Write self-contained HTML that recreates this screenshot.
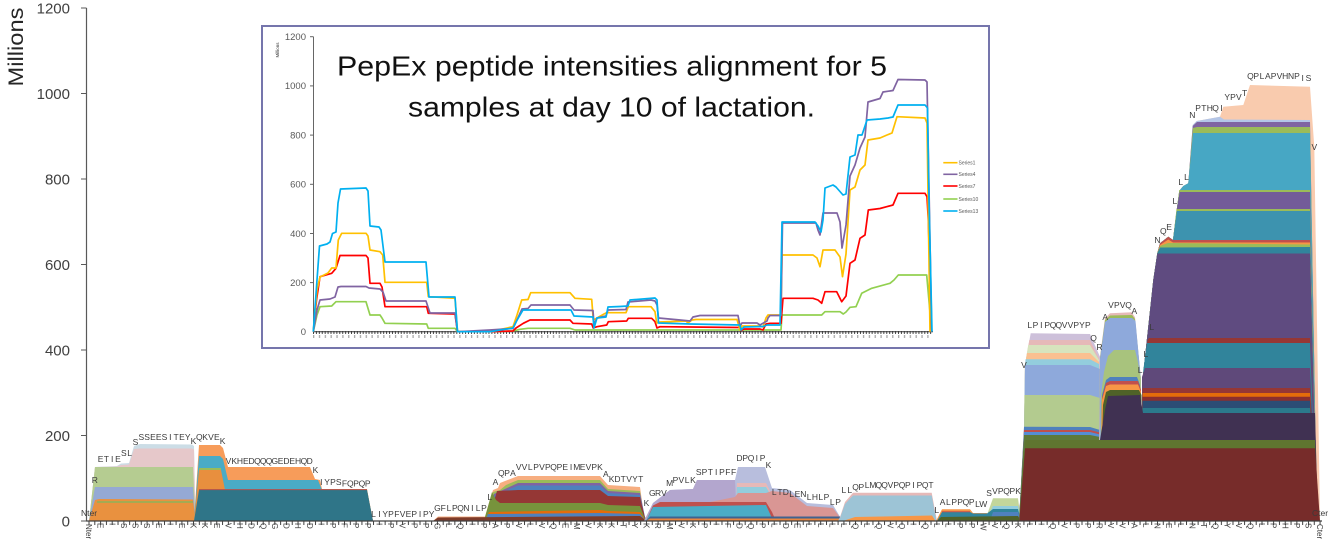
<!DOCTYPE html>
<html><head><meta charset="utf-8"><style>
html,body{margin:0;padding:0;background:#fff;}
svg{display:block;font-family:"Liberation Sans",sans-serif;}
</style></head><body>
<svg width="1330" height="552" viewBox="0 0 1330 552" xmlns="http://www.w3.org/2000/svg">
<defs>
<pattern id="tk" x="88.5" y="521" width="5.807" height="6" patternUnits="userSpaceOnUse"><rect x="0" y="0" width="1" height="6" fill="#404040"/></pattern>
<pattern id="tk2" x="313" y="331" width="2.925" height="4" patternUnits="userSpaceOnUse"><rect x="0" y="0" width="0.9" height="4" fill="#333"/></pattern>
<pattern id="tk3" x="313" y="334" width="5.85" height="6" patternUnits="userSpaceOnUse"><rect x="0" y="0" width="1.3" height="4" fill="#aaa"/></pattern>
</defs>
<rect width="1330" height="552" fill="#fff"/>

<!-- Block 1 -->
<polygon fill="#CCDDE6" points="89,521 95,467 117,466 121,463.5 129,463 134,446 140,444 192,444.5 194,446 195.5,521"/>
<polygon fill="#E6C8CA" points="89,521 95,467 117,466.5 121,465 129,464.5 134,449 140,448.5 192,448.5 194,449.5 195.5,521"/>
<polygon fill="#B5CC91" points="89,521 95,467 193,467 195.5,521"/>
<polygon fill="#95A9D4" points="89,521 95,487 193,487 195.5,521"/>
<polygon fill="#E9913F" points="89,521 95,500 99,499 193,499.5 195.5,521"/>
<line x1="97" y1="502" x2="193" y2="502" stroke="#8DB35A" stroke-width="1.5"/>

<!-- Block 2 -->
<polygon fill="#F79C5A" points="194,521 199,445 220,445 223,448 228,467 310,467 315,479 320,480 322,489 367,489 373,521"/>
<polygon fill="#4AABC6" points="194,521 199,456 220,456 223,459 228,480 318,480 322,490 367,490 373,521"/>
<polygon fill="#E88F3E" points="194,521 199,470 221,470 225,490 367,490 373,521"/>
<line x1="199" y1="469" x2="221" y2="469" stroke="#9BBB59" stroke-width="2"/>
<polygon fill="#2F7588" points="194,521 199,490 367,490 373,521"/>
<line x1="199" y1="489.6" x2="367" y2="489.6" stroke="#B0504D" stroke-width="1"/>

<!-- Block 3 -->
<polygon fill="#F7AE80" points="433,521 438,516.5 485,516.5 493,490 498,488 500,483 505,481 518,476 600,476 608,485 640,487 644,515 647,521"/>
<polygon fill="#9BBB59" points="485,521 493,492 500,490 506,485 518,480 600,480 608,489 640,491 644,516 647,521"/>
<polygon fill="#8064A2" points="485,521 494,494 518,483 600,483 608,491 640,493 645,517 647,521"/>
<polygon fill="#4F81BD" points="485,521 495,495 518,485.5 600,485.5 608,493 640,495 645,518 647,521"/>
<polygon fill="#953735" points="485,521 490,515 497,491 518,490 600,490 608,496 640,497 645,518 647,521"/>
<polygon fill="#77933C" points="485,521 485,517 492,492 496,500 500,503 600,503 608,505 640,506 645,519 647,521"/>
<polygon fill="#E46C0A" points="485,521 489,512 600,510 608,511 640,512 645,519.5 647,521"/>
<polygon fill="#4F81BD" points="485,521 488,514 600,513 640,514 645,520 647,521"/>
<polygon fill="#7D3B2A" points="433,521 438,517.5 640,516 646,520.5 647,521"/>

<!-- Block 4 -->
<polygon fill="#B8BEDD" points="644,521 653,503 670,490 693,489 697,480 735,480 738,467 765,467 772,488 790,490 807,503 833,505 840,516.7 842,521"/>
<polygon fill="#B3A6CE" points="644,521 653,503 670,490 693,489 697,480 735,480 737,521"/>
<polygon fill="#E6B9B8" points="735,521 737,483 766,483 772,495 775,521"/>
<polygon fill="#93CDDD" points="735,521 737,487 766,487 772,497 775,521"/>
<polygon fill="#D99694" points="650,521 700,504 735,497 738,493 766,493 772,491 790,493 807,506 833,508 840,517.5 842,521"/>
<polygon fill="#C0504D" points="646,521 653,505.5 660,502 766,502 772,512 776,521"/>
<polygon fill="#4BACC6" points="646,521 653,507 766,505 771,516 774,521"/>
<polygon fill="#3F6390" points="646,521 650,516.5 840,516.5 842,521"/>
<polygon fill="#E9863F" points="646,521 650,518.5 840,518.5 842,521"/>

<!-- Block 5 -->
<polygon fill="#E6B9B8" points="838,521 840,517 845,502 853,492.7 931.7,492.7 937,521"/>
<polygon fill="#9DC4D6" points="838,521 840,518 845,504 853,495.5 931.7,495.5 936.5,521"/>
<polygon fill="#F79646" points="843,521 855,517 932,515.5 935.5,521"/>

<!-- Block 6 -->
<polygon fill="#C3D69B" points="985,521 988,512 993,498.3 1018,498.3 1021,521"/>
<polygon fill="#93CDDD" points="986,521 993,506 1018,506 1021,521"/>
<polygon fill="#F79646" points="936,521 942,509.3 970,509.3 973,513 987,513 990,521"/>
<polygon fill="#31859C" points="937,521 942,512 970,512 973,513.5 987,513.5 993,509 1018,509 1021,521"/>
<line x1="942" y1="511.7" x2="970" y2="511.7" stroke="#C0504D" stroke-width="1"/>
<polygon fill="#4F81BD" points="990,521 993,512 1018,512 1021,521"/>
<polygon fill="#4F6228" points="937,521 941,517 1018,516 1021,521"/>

<!-- Block 7: right part upper layers -->
<polygon fill="#F9CBAE" points="1142,521 1143.3,373.3 1153.3,280 1157.3,253.3 1160,243.3 1168.3,236.7 1173,240 1176.7,210 1179.3,190.7 1183.3,186 1188.3,183.3 1192.7,125 1196.7,121 1220,116.7 1223.3,106.7 1243.3,105 1250,85 1310,86.7 1314.3,147 1320,521"/>
<polygon fill="#B4C6E7" points="1142,521 1143.3,373.3 1153.3,280 1157.3,253.3 1160,243.3 1168.3,236.7 1173,240 1176.7,210 1179.3,190.7 1183.3,186 1188.3,183.3 1192.7,125 1196.7,121 1220,116.7 1224,119.5 1310,120 1317,521"/>
<polygon fill="#8064A2" points="1142,521 1143.3,373.3 1153.3,280 1157.3,253.3 1160,243.3 1168.3,236.7 1173,240 1176.7,210 1179.3,190.7 1183.3,186 1188.3,183.3 1192.7,126 1197,122 1310,122 1317,521"/>
<polygon fill="#9BBB59" points="1142,521 1143.3,373.3 1153.3,280 1157.3,253.3 1160,243.3 1168.3,236.7 1173,240 1176.7,210 1179.3,190.7 1183.3,186 1188.3,183.3 1192.9,128 1197,127 1310,127 1317,521"/>
<polygon fill="#47A7C4" points="1142,521 1143.3,373.3 1153.3,280 1157.3,253.3 1160,243.3 1168.3,236.7 1173,240 1176.7,210 1179.3,190.7 1183.3,186 1188.3,183.3 1193,133 1310,133 1317,521"/>
<polygon fill="#9BBB59" points="1142,521 1143.3,373.3 1153.3,280 1157.3,253.3 1160,243.3 1168.3,236.7 1173,240 1176.7,210 1179.3,190 1310,190 1317,521"/>
<polygon fill="#735B99" points="1142,521 1143.3,373.3 1153.3,280 1157.3,253.3 1160,243.3 1168.3,236.7 1173,240 1176.7,210 1179.6,192 1310,192 1317,521"/>
<polygon fill="#9BBB59" points="1142,521 1143.3,373.3 1153.3,280 1157.3,253.3 1160,243.3 1168.3,236.7 1173,240 1176.5,209 1310,209 1317,521"/>
<polygon fill="#3D93AF" points="1142,521 1143.3,373.3 1153.3,280 1157.3,253.3 1160,243.3 1168.3,236.7 1173,240 1176.8,211 1310,211 1317,521"/>
<polygon fill="#C0504D" points="1142,521 1143.3,373.3 1153.3,280 1157.3,253.3 1160,243.3 1168.3,236.7 1173,240 1310,240 1317,521"/>
<polygon fill="#F79646" points="1142,521 1143.3,373.3 1153.3,280 1157.3,253.3 1160,245 1168.3,239.5 1173,242.5 1310,242.5 1317,521"/>
<polygon fill="#9BBB59" points="1142,521 1143.3,373.3 1153.3,280 1157.3,253.3 1160,246 1168,243 1310,244.5 1317,521"/>
<polygon fill="#31859C" points="1142,521 1143.3,373.3 1153.3,280 1157.3,253.3 1160,247.5 1310,247 1317,521"/>
<polygon fill="#5F4B80" points="1142,521 1143.3,373.3 1153.3,280 1157.3,253.5 1310,253.5 1317,521"/>
<polygon fill="#953735" points="1142,521 1143.3,373.3 1147.5,340 1149,338 1310,338 1317,521"/>
<polygon fill="#31849B" points="1142,521 1143.3,370 1147,343 1310,343 1317,521"/>
<polygon fill="#5F497A" points="1142,521 1142,377 1145,368 1310,368 1317,521"/>
<!-- right stripes -->
<polygon fill="#953735" points="1141,521 1142.5,388 1310,388 1317,521"/>
<polygon fill="#E46C0A" points="1141,521 1142.5,393 1310,393 1317,521"/>
<polygon fill="#8B2F2E" points="1141,521 1142.5,396.7 1310,396.7 1317,521"/>
<polygon fill="#2C4D75" points="1141,521 1142.5,400.7 1310,400.7 1317,521"/>
<polygon fill="#2B7A8C" points="1141,521 1142.5,408 1310,408 1317,521"/>

<!-- Block 7: left part -->
<polygon fill="#CDC0DA" points="1019,521 1024,440 1025,365 1030.7,333.3 1090,334 1100,356.7 1100,521"/>
<polygon fill="#E6B9B8" points="1019,521 1024,440 1025,365 1029.3,340 1090,340 1099,358.5 1100,521"/>
<polygon fill="#D7E4BD" points="1019,521 1024,440 1025,365 1028.2,345 1090,345 1099,360 1100,521"/>
<polygon fill="#FAC090" points="1019,521 1024,440 1025,365 1027,353 1090,353 1099,362 1100,521"/>
<polygon fill="#93CDDD" points="1019,521 1024,440 1025,365 1025.6,359.3 1090,359.3 1099,364 1100,521"/>
<polygon fill="#8EA9DB" points="1019,521 1024,440 1025,365 1090,365 1100,369 1100,521"/>
<polygon fill="#B3CB8F" points="1019,521 1024,440 1024.4,395 1090,395 1100,398 1100,521"/>
<polygon fill="#4F81BD" points="1019,521 1024,426.7 1090,427 1100,430 1100,521"/>
<polygon fill="#C0504D" points="1019,521 1024,430 1090,430 1100,432.5 1100,521"/>
<polygon fill="#558ED5" points="1019,521 1024,432 1090,432 1100,434.5 1100,521"/>
<polygon fill="#5E7A3A" points="1019,521 1024,435 1090,435 1100,437 1100,521"/>

<!-- Block 7: VPVQA part -->
<polygon fill="#E6B9B8" points="1098,521 1100,356.7 1105,318.3 1110,313.3 1131.7,312.3 1135,317.3 1140.7,376.7 1141.5,521"/>
<polygon fill="#9BBB59" points="1099,521 1100,358 1105,320 1110,315.5 1132,315 1135,319 1140.7,377 1141.5,521"/>
<polygon fill="#8EA9DB" points="1099,521 1100,359 1105,322 1110,318 1132,318 1135.5,321 1140.7,377.5 1141.5,521"/>
<polygon fill="#A8C37D" points="1100,521 1101,395 1104,372 1108,356 1114,350 1135,350 1137.5,360 1140.7,378 1141.5,521"/>
<polygon fill="#4F81BD" points="1100,521 1102,395 1106,380 1110,377 1137,377 1140,385 1141.5,521"/>
<polygon fill="#C0504D" points="1100,521 1102,398 1106,383 1110,381 1138,381 1141,390 1141.5,521"/>
<polygon fill="#F79646" points="1100,521 1102,400 1106,386 1110,384.5 1138,384.5 1141,392 1141.5,521"/>
<polygon fill="#4F6228" points="1100,521 1103,405 1106,392 1110,390 1139,390 1141.5,395 1142,521"/>

<!-- Block 7: shared bottom layers -->
<polygon fill="#403152" points="1098,521 1100,440 1105,410 1108,396 1140,395 1143,413 1315,413 1318,521"/>
<polygon fill="#5F7530" points="1019,521 1025,448 1025.5,440 1315,440 1318,521"/>
<polygon fill="#772C2A" points="1019.3,521 1025,448.3 1315,448.3 1320,521"/>

<!-- Main axes -->
<line x1="86.5" y1="8" x2="86.5" y2="521" stroke="#595959" stroke-width="1.2"/>
<line x1="86" y1="521" x2="1322" y2="521" stroke="#404040" stroke-width="1.2"/>
<rect x="86" y="521" width="1236" height="4" fill="url(#tk)"/>
<g stroke="#595959" stroke-width="1">
<line x1="81" y1="8" x2="86.5" y2="8"/>
<line x1="81" y1="93.5" x2="86.5" y2="93.5"/>
<line x1="81" y1="179" x2="86.5" y2="179"/>
<line x1="81" y1="264.5" x2="86.5" y2="264.5"/>
<line x1="81" y1="350" x2="86.5" y2="350"/>
<line x1="81" y1="435.5" x2="86.5" y2="435.5"/>
<line x1="81" y1="521" x2="86.5" y2="521"/>
</g>
<g font-size="15" fill="#404040" text-anchor="end">
<text x="70" y="13.5">1200</text>
<text x="70" y="99">1000</text>
<text x="70" y="184.5">800</text>
<text x="70" y="270">600</text>
<text x="70" y="355.5">400</text>
<text x="70" y="441">200</text>
<text x="70" y="526.5">0</text>
</g>
<text transform="translate(23,47) rotate(-90)" text-anchor="middle" font-size="21" fill="#262626" textLength="79" lengthAdjust="spacingAndGlyphs">Millions</text>

<!-- X axis labels -->
<g font-size="8" fill="#404040">
<text transform="translate(86.2,524) rotate(90)">Nter</text>
<text x="97.7 109.3 120.9 132.6 144.2 155.8 167.4 179.0 190.6 202.2 213.9 225.5 237.1 248.7 260.3 271.9 283.5 295.2 306.8 318.4 330.0 341.6 353.2 364.8 376.5 388.1 399.7 411.3 422.9 434.5 446.1 457.7 469.4 481.0 492.6 504.2 515.8 527.4 539.0 550.7 562.3 573.9 585.5 597.1 608.7 620.3 632.0 643.6 655.2 666.8 678.4 690.0 701.6 713.3 724.9 736.5 748.1 759.7 771.3 782.9 794.6 806.2 817.8 829.4 841.0 852.6 864.2 875.9 887.5 899.1 910.7 922.3 933.9 945.5 957.2 968.8 980.4 992.0 1003.6 1015.2 1026.8 1038.4 1050.1 1061.7 1073.3 1084.9 1096.5 1108.1 1119.7 1131.4 1143.0 1154.6 1166.2 1177.8 1189.4 1201.0 1212.7 1224.3 1235.9 1247.5 1259.1 1270.7 1282.3 1294.0 1305.6" y="523" rotate="90">EISSSEIEKKEVHDQGDHDIPFPPIPVPPGLQIPAPVLVQEMVKKTYKRMVKPIFDQPLDELLLLQLQVQIQLLPPWVQKLIQVPPRVVALNELNTQYVQLPHPS</text>
<text transform="translate(1317.2,524) rotate(90)">Cter</text>
</g>

<!-- Data labels -->
<g font-size="8.5" fill="#3a3a3a" text-anchor="middle">
<text x="89" y="516">Nter</text>
<text x="94.8" y="483">R</text>
<text x="100.6 106.4 112.2 118.0" y="462">ETIE</text>
<text x="123.8 129.6" y="456">SL</text>
<text x="135.5" y="445">S</text>
<text x="141.3 147.1 152.9 158.7 164.5 170.3 176.1 181.9 187.7" y="440">SSEESITEY</text>
<text x="193.5" y="444">K</text>
<text x="199.3 205.1 210.9 216.8" y="440">QKVE</text>
<text x="222.6" y="444">K</text>
<text x="228.4 234.2 240.0 245.8 251.6 257.4 263.2 269.0 274.8 280.6 286.4 292.2 298.1 303.9 309.7" y="464">VKHEDQQQGEDEHQD</text>
<text x="315.5" y="473">K</text>
<text x="321.3 327.1 332.9 338.7" y="485">IYPS</text>
<text x="344.5 350.3 356.1 361.9 367.7" y="486.5">FQPQP</text>
<text x="373.5 379.4 385.2 391.0 396.8 402.6 408.4 414.2 420.0 425.8 431.6" y="517">LIYPFVEPIPY</text>
<text x="437.4 443.2 449.0 454.8 460.6 466.5 472.3 478.1 483.9" y="511">GFLPQNILP</text>
<text x="489.7" y="500">L</text>
<text x="495.5" y="485">A</text>
<text x="501.3 507.1 512.9" y="476">QPA</text>
<text x="518.7 524.5 530.3 536.1 541.9 547.8 553.6 559.4 565.2 571.0 576.8 582.6 588.4 594.2 600.0" y="470">VVLPVPQPEIMEVPK</text>
<text x="605.8" y="477">A</text>
<text x="611.6 617.4 623.2 629.1 634.9 640.7" y="482">KDTVYT</text>
<text x="646.5" y="506">K</text>
<text x="652.3 658.1 663.9" y="496">GRV</text>
<text x="669.7" y="486">M</text>
<text x="675.5 681.3 687.1 692.9" y="483">PVLK</text>
<text x="698.7 704.5 710.3 716.2 722.0 727.8 733.6" y="475">SPTIPFF</text>
<text x="739.4 745.2 751.0 756.8 762.6" y="461">DPQIP</text>
<text x="768.4" y="468">K</text>
<text x="774.2 780.0 785.8" y="495">LTD</text>
<text x="791.6 797.5 803.3" y="497">LEN</text>
<text x="809.1 814.9 820.7 826.5" y="500">LHLP</text>
<text x="832.3 838.1" y="505">LP</text>
<text x="843.9 849.7" y="493">LL</text>
<text x="855.5 861.3" y="490">QP</text>
<text x="867.1 872.9 878.8 884.6 890.4 896.2 902.0 907.8 913.6 919.4 925.2 931.0" y="488">LMQQVPQPIPQT</text>
<text x="936.8" y="513">L</text>
<text x="942.6 948.4 954.2 960.1 965.9 971.7" y="505">ALPPQP</text>
<text x="977.5 983.3" y="507">LW</text>
<text x="989.1" y="496">S</text>
<text x="994.9 1000.7 1006.5 1012.3 1018.1" y="494">VPQPK</text>
<text x="1023.9" y="368">V</text>
<text x="1029.7 1035.5 1041.3 1047.2 1053.0 1058.8 1064.6 1070.4 1076.2 1082.0 1087.8" y="328">LPIPQQVVPYP</text>
<text x="1093.6" y="341">Q</text>
<text x="1099.4" y="350">R</text>
<text x="1105.2" y="320">A</text>
<text x="1111.0 1116.8 1122.6 1128.5" y="308">VPVQ</text>
<text x="1134.3" y="314">A</text>
<text x="1140.1" y="373">L</text>
<text x="1145.9" y="357">L</text>
<text x="1151.7" y="330">L</text>
<text x="1157.5" y="243">N</text>
<text x="1163.3" y="234">Q</text>
<text x="1169.1" y="230">E</text>
<text x="1174.9" y="204">L</text>
<text x="1180.7" y="185">L</text>
<text x="1186.5" y="180">L</text>
<text x="1192.3" y="118">N</text>
<text x="1198.1 1203.9 1209.8 1215.6 1221.4" y="111">PTHQI</text>
<text x="1227.2 1233.0 1238.8" y="100">YPV</text>
<text x="1244.6" y="96">T</text>
<text x="1250.4 1256.2 1262.0 1267.8 1273.6 1279.4 1285.2 1291.1 1296.9" y="79">QPLAPVHNP</text>
<text x="1302.7 1308.5" y="81">IS</text>
<text x="1314.3" y="150">V</text>
<text x="1320" y="516">Cter</text>
</g>

<!-- Inset -->
<rect x="262" y="26" width="727" height="322" fill="#fff" stroke="#7575AC" stroke-width="2"/>
<text x="337" y="75.5" font-size="28" fill="#111" textLength="550" lengthAdjust="spacingAndGlyphs">PepEx peptide intensities alignment for 5</text>
<text x="408" y="116.7" font-size="28" fill="#111" textLength="407" lengthAdjust="spacingAndGlyphs">samples at day 10 of lactation.</text>
<text transform="translate(279,50) rotate(-90)" text-anchor="middle" font-size="4.5" fill="#333">Millions</text>
<line x1="313.5" y1="36.7" x2="313.5" y2="331.7" stroke="#666" stroke-width="1"/>
<g stroke="#666" stroke-width="1">
<line x1="310" y1="36.7" x2="313.5" y2="36.7"/>
<line x1="310" y1="85.9" x2="313.5" y2="85.9"/>
<line x1="310" y1="135.1" x2="313.5" y2="135.1"/>
<line x1="310" y1="184.3" x2="313.5" y2="184.3"/>
<line x1="310" y1="233.5" x2="313.5" y2="233.5"/>
<line x1="310" y1="282.6" x2="313.5" y2="282.6"/>
</g>
<g font-size="9.5" fill="#595959" text-anchor="end">
<text x="306" y="40">1200</text>
<text x="306" y="89.2">1000</text>
<text x="306" y="138.4">800</text>
<text x="306" y="187.6">600</text>
<text x="306" y="236.8">400</text>
<text x="306" y="285.9">200</text>
<text x="306" y="335">0</text>
</g>
<line x1="313" y1="331.7" x2="933" y2="331.7" stroke="#333" stroke-width="1"/>
<rect x="313" y="331" width="620" height="3" fill="url(#tk2)"/>
<rect x="313" y="335" width="620" height="4" fill="url(#tk3)"/>

<g fill="none" stroke-width="1.7" stroke-linejoin="round">
<polyline stroke="#92D050" points="313.3,331.7 317,315 320,306.7 331.7,306 336,301.7 366,301.7 370,315 380,315 382,318 385,323.3 426.7,324 428.3,328.3 455,328.3 457.5,331.7 490,331.7 513,331 520,329.3 528,328.3 570,328.3 575,330 781,330 782,315 821.7,315 825,311.7 840,311.7 843.3,314 846,312 850,307.3 856,306.7 861.7,293.3 871.7,288.3 890,283.3 894,280 898.3,275 926.7,275 931.7,331.7"/>
<polyline stroke="#FF0000" points="313.3,331.7 316.5,300 320,276.7 331.7,273.3 336,268.3 340,255.5 366,255.5 368,258 370,283.3 380,283.3 382,287 385,306.7 426.7,306.7 428.3,313.3 455,314 457.5,331.7 490,331.7 513,331 516,328 523.3,323.3 530,320 570,320 573,323.3 591.7,324 593.3,328 597,326.7 606.7,325 608.3,321.7 626.7,321 628.3,318.3 651.7,318.3 655,321.7 657,328 660,326.7 690,327 740,327.5 741,330.5 744,329 760,329 763,330 766,324 770,323.3 781,323.3 783,298.3 813,298.3 818,300 821.7,303.3 825,291.7 836.7,291.7 841.7,301.7 846,296 850,263.3 855,260 860,238.3 865,235 868.3,210 880,208.5 886.7,206.7 893,205 898,193.3 925,193.3 927,196.7 928.3,220 931.7,331.7"/>
<polyline stroke="#FFC000" points="313.3,331.7 317,290 320,277 328,273 331.7,268 336,268 338.3,240 341.7,233.3 366,233.3 368,236 370,250 380,251.7 382.7,255 385,282.3 426.7,282.3 428.3,296.7 455,298.3 457.5,331.7 490,331.7 513,326.7 517,315 521.7,300 528,299.5 530.7,292.7 570,292.7 575,298.3 591.7,299.3 593.3,320 597,318 604,314 606.7,312.7 626,312.7 628.3,306.7 651,306.7 655,311.7 656.7,323 660,322 686,321 688,323 692,320 696,319.5 737,319.5 740,330 742,326 760,326 763,327 766,318 768,315 781,315 782,255 813,255 817,258 820,266.7 823,250 835,250 840,257 842.5,276.7 846,254 850,190 855,187 860,170 865,165 868,140 880,138 887,135 892,133 897,116.7 925,118 927,123 930,331.7"/>
<polyline stroke="#8064A2" points="313.3,331.7 317,310 320,300 330,299 335,297 338,287 341,286.5 366,286.5 369,288 380,289 383,292 386,301 426,301 430,313 455,313 457.5,331.7 490,330 513,328.5 517,320 522,309 528,308.5 531,305 570,305 574,310 593,310.5 594,325 597,318 606,316 608,310 626,309.5 628,302 651,300 655,301 657,305 658.5,318 680,320 690,321 693,317 700,315.5 738,315.5 740,326 742,323 757,323 760,325 767,321 768,318 770,315.5 781,315.5 782.5,223 816,223 818,230 820,235 823,213 837,213 840,222 842,248 846,225 850,176 855,165 860,148 865,137 868,102 880,98.5 883,92 893,90.5 898,79.5 925,80 927,82 931.7,331.7"/>
<polyline stroke="#00B0F0" points="313.3,331.7 317,280 319.5,246 327,244 330,242 332.5,233.5 336,232 338,203 340.5,189 366,188 368,191 370,226 379,227 381,230 385,262 426,262 429,297 455,297 457.5,331.7 490,331.7 513,328 516,322 523,310 571,310 574,316 593,317 594,328 597,318 606,317 608,307 620,306.5 628,306 630,300 655,298 657,300 658.5,323 690,324 740,325 741,330 744,327 763,326.5 767,325 780,325 782,222 815,222 818,226 821,232 823,220 825,188 833,185 836,187 843,195 846,194 850,157 855,155 858,135 862,135 867,120 880,119 888,118 893,117 898,105 925,105 927.5,108 929,200 932,331.7"/>
</g>

<!-- Legend -->
<g stroke-width="1.6">
<line x1="943.3" y1="162.7" x2="957.5" y2="162.7" stroke="#FFC000"/>
<line x1="943.3" y1="174.3" x2="957.5" y2="174.3" stroke="#8064A2"/>
<line x1="943.3" y1="186" x2="957.5" y2="186" stroke="#FF0000"/>
<line x1="943.3" y1="199" x2="957.5" y2="199" stroke="#92D050"/>
<line x1="943.3" y1="211" x2="957.5" y2="211" stroke="#00B0F0"/>
</g>
<g font-size="5" fill="#595959">
<text x="958.5" y="164.5">Series1</text>
<text x="958.5" y="176.1">Series4</text>
<text x="958.5" y="187.8">Series7</text>
<text x="958.5" y="200.8">Series10</text>
<text x="958.5" y="212.8">Series13</text>
</g>
</svg>
</body></html>
